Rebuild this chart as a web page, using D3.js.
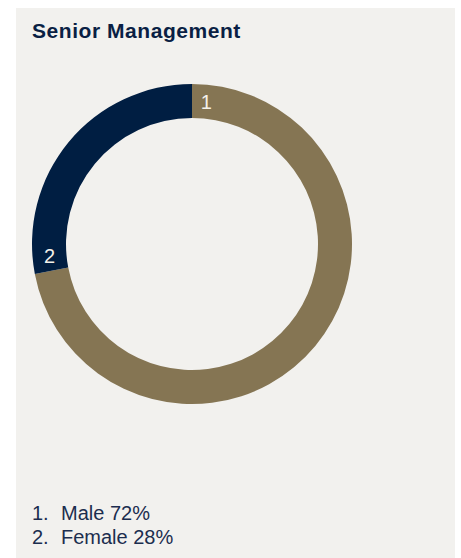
<!DOCTYPE html>
<html>
<head>
<meta charset="utf-8">
<script src="https://cdn.jsdelivr.net/npm/d3@7"></script>
<style>
  html, body { margin: 0; padding: 0; background: #ffffff; }
  svg { display: block; }
</style>
</head>
<body>
<script>
// Senior management gender split
const categories = ["Male", "Female"];
const values = [72, 28];
const colors = ["#857553", "#001e42"];
const title = "Senior Management";

const W = 461, H = 558;
const FONT = "'Liberation Sans', Arial, Helvetica, sans-serif";
const svg = d3.select("body").append("svg")
  .attr("width", W).attr("height", H);

// panel background
svg.append("rect")
  .attr("x", 16).attr("y", 8)
  .attr("width", 439).attr("height", H - 8)
  .attr("fill", "#f2f1ee");

svg.append("text")
  .attr("x", 32).attr("y", 38)
  .attr("font-family", FONT)
  .attr("font-weight", "bold")
  .attr("font-size", 21)
  .attr("letter-spacing", 0.55)
  .attr("fill", "#0a1f44")
  .text(title);

// donut
const cx = 192, cy = 244, rOuter = 160, rInner = 126;
const pie = d3.pie().sort(null).value(d => d.value);
const arcs = pie(categories.map((c, i) => ({ name: c, value: values[i], idx: i })));
const arc = d3.arc().innerRadius(rInner).outerRadius(rOuter);

const g = svg.append("g").attr("transform", `translate(${cx},${cy})`);
g.selectAll("path.slice")
  .data(arcs)
  .join("path")
  .attr("class", "slice")
  .attr("d", arc)
  .attr("fill", d => colors[d.data.idx]);

// segment numbers, placed just past each segment's start
const rLabel = 143;
g.selectAll("text.num")
  .data(arcs)
  .join("text")
  .attr("class", "num")
  .attr("x", d => rLabel * Math.sin(d.startAngle + 0.1))
  .attr("y", d => -rLabel * Math.cos(d.startAngle + 0.1))
  .attr("dy", "0.34em")
  .attr("text-anchor", "middle")
  .attr("font-family", FONT)
  .attr("font-size", 20)
  .attr("fill", "#f4f1ea")
  .text(d => d.data.idx + 1);

// legend
const legend = svg.append("g")
  .attr("font-family", FONT)
  .attr("font-size", 20)
  .attr("fill", "#1b2d4f");
const rows = legend.selectAll("g")
  .data(categories)
  .join("g")
  .attr("transform", (d, i) => `translate(0,${519.5 + i * 24})`);
rows.append("text").attr("x", 32).text((d, i) => `${i + 1}.`);
rows.append("text").attr("x", 61).text((d, i) => `${d} ${values[i]}%`);
</script>
</body>
</html>
